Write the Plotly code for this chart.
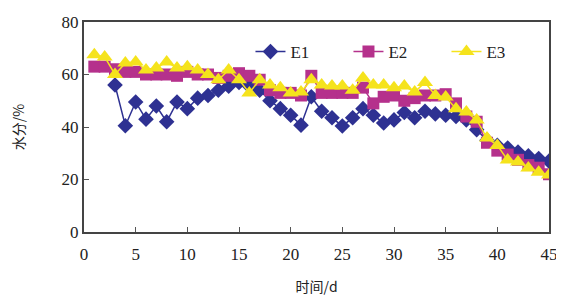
import plotly.graph_objects as go

days = list(range(1, 46))
E1 = [None, None, 56, 40.5, 49.5, 43, 48, 42, 49.5, 47,
      51, 52, 54, 55.5, 57, 55.5, 54, 50, 47, 44.5,
      40.7, 51.5, 46, 43.5, 40.4, 43.5, 47, 44.5, 41.5, 42.7,
      45.5, 43.5, 46, 45, 44.5, 44, 42.7, 39, 35, 33,
      32, 30.5, 29, 28, 27]
E2 = [63, 63, 62, 61, 61, 60, 60, 60, 59.5, 61,
      60, 60, 58.7, 59.5, 60.5, 59.5, 58, 54, 53, 53,
      52, 59.5, 53, 53, 53, 53, 55, 49, 51.5, 52,
      50, 51, 52, 52, 52.5, 49, 44, 42, 34, 31,
      29.5, 27.5, 25.5, 24.5, 22]
E3 = [67.5, 66.7, 60, 64.4, 64.8, 61.7, 62.5, 64.8, 62.5, 63,
      61.7, 60, 58, 61.7, 58, 53, 58, 56, 55, 53,
      53.3, 58, 56, 55.6, 55.6, 54, 58.7, 56, 56, 55,
      55.6, 53.3, 57, 52, 51.4, 47, 45.7, 42.7, 35.8, 33,
      27.4, 26.7, 24.4, 22.8, 21.7]

x_ticks = [0, 5, 10, 15, 20, 25, 30, 35, 40, 45]
y_ticks = [0, 20, 40, 60, 80]

serif = "Liberation Serif, Times New Roman, serif"
cjk = "Noto Sans CJK SC, sans-serif"

fig = go.Figure()
fig.add_trace(go.Scatter(x=days, y=E1, name="E1", mode="lines+markers",
                         line=dict(color="#2e3192", width=1.5),
                         marker=dict(symbol="diamond", size=12, color="#2e3192")))
fig.add_trace(go.Scatter(x=days, y=E2, name="E2", mode="lines+markers",
                         line=dict(color="#b5318c", width=1.5),
                         marker=dict(symbol="square", size=12, color="#b5318c")))
fig.add_trace(go.Scatter(x=days, y=E3, name="E3", mode="lines+markers",
                         line=dict(color="#f5e31c", width=1.5),
                         marker=dict(symbol="triangle-up", size=14, color="#f5e31c")))

fig.update_layout(
    width=564, height=298,
    margin=dict(l=76, r=23, t=14, b=74, autoexpand=False),
    paper_bgcolor="white", plot_bgcolor="white",
    showlegend=True,
    legend=dict(orientation="h", x=0.358, y=0.857, xanchor="left", yanchor="middle",
                font=dict(family=serif, size=17, color="#222"),
                bgcolor="rgba(0,0,0,0)", entrywidth=53, entrywidthmode="pixels"),
    xaxis=dict(range=[0, 45], tickvals=x_ticks, ticks="inside", ticklen=5,
               tickcolor="#555", showgrid=False, zeroline=False,
               showline=True, linecolor="#444", linewidth=2, mirror=True,
               ticklabelstandoff=6,
               tickfont=dict(family=serif, size=17, color="#222"),
               title=dict(text="时间/d", font=dict(family=cjk, size=14, color="#222"), standoff=19)),
    yaxis=dict(range=[0, 80], tickvals=y_ticks, ticks="inside", ticklen=5,
               tickcolor="#555", showgrid=False, zeroline=False,
               showline=True, linecolor="#444", linewidth=2, mirror=True,
               tickfont=dict(family=serif, size=17, color="#222"),
               title=dict(text="水分/%", font=dict(family=cjk, size=14, color="#222"), standoff=50)),
)

fig.write_html("out.html")
